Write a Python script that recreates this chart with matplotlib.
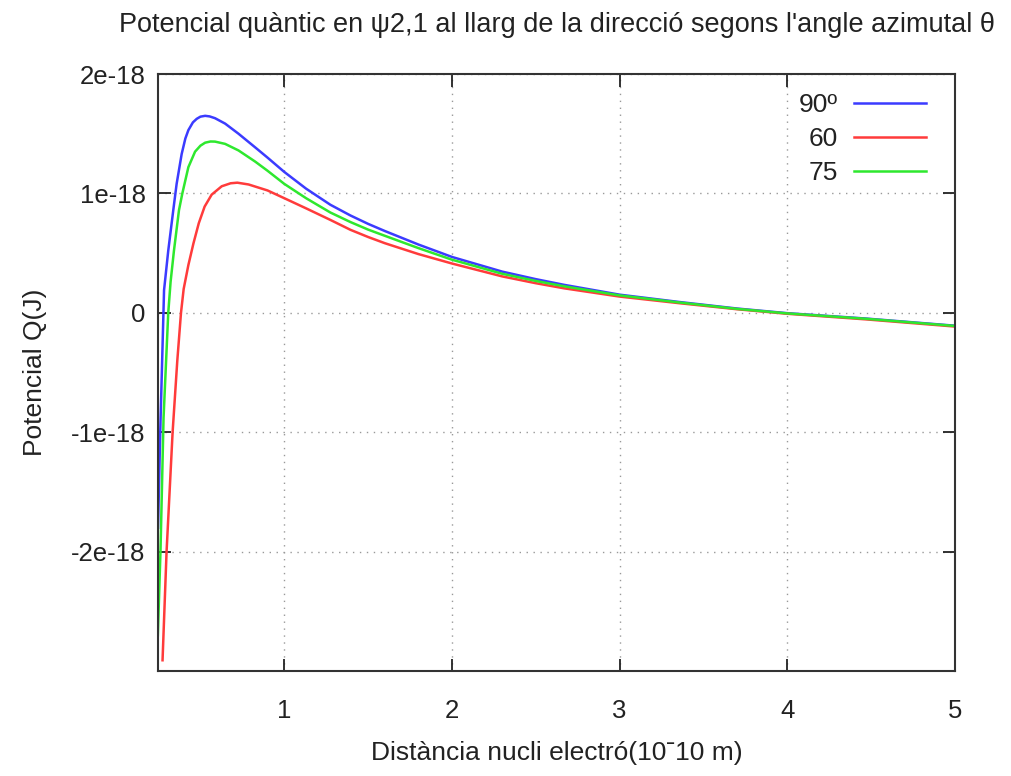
import matplotlib
matplotlib.use("Agg")
import matplotlib.pyplot as plt

plt.rcParams['font.family'] = ['Liberation Sans', 'DejaVu Sans']

# Valors llegits de la grafica (Q en unitats de 1e-18 J)
x90 = [0.247, 0.262, 0.283, 0.308, 0.338, 0.358, 0.388, 0.410, 0.428, 0.455, 0.478,
       0.500, 0.528, 0.555, 0.587, 0.647, 0.727, 0.827, 0.900, 1.000, 1.130, 1.275,
       1.395, 1.500, 1.600, 1.800, 2.000, 2.300, 2.500, 2.670, 3.000, 3.360, 3.700,
       4.000, 4.470, 5.000]
q90 = [-1.80, -0.90, 0.19, 0.52, 0.86, 1.08, 1.33, 1.46, 1.53, 1.595, 1.625,
       1.643, 1.650, 1.645, 1.630, 1.585, 1.500, 1.385, 1.300, 1.180, 1.040, 0.905,
       0.815, 0.745, 0.685, 0.572, 0.468, 0.345, 0.282, 0.234, 0.152, 0.090, 0.036,
       -0.003, -0.048, -0.108]

x60 = [0.274, 0.298, 0.334, 0.362, 0.384, 0.400, 0.428, 0.458, 0.490, 0.525, 0.567,
       0.627, 0.680, 0.720, 0.787, 0.900, 1.000, 1.130, 1.275, 1.395, 1.500, 1.600,
       1.800, 2.000, 2.300, 2.500, 2.670, 3.000, 3.360, 3.700, 4.000, 4.470, 5.000]
q60 = [-2.91, -2.00, -1.00, -0.40, 0.00, 0.20, 0.40, 0.58, 0.75, 0.89, 0.99,
       1.06, 1.085, 1.09, 1.075, 1.025, 0.96, 0.875, 0.778, 0.695, 0.635, 0.583,
       0.492, 0.413, 0.305, 0.248, 0.205, 0.136, 0.080, 0.030, -0.008, -0.055, -0.115]

x75 = [0.246, 0.262, 0.280, 0.308, 0.322, 0.342, 0.372, 0.392, 0.428, 0.468, 0.500,
       0.528, 0.560, 0.587, 0.647, 0.727, 0.827, 0.900, 1.000, 1.130, 1.275, 1.395,
       1.500, 1.600, 1.800, 2.000, 2.300, 2.500, 2.670, 3.000, 3.360, 3.700, 4.000,
       4.470, 5.000]
q75 = [-2.70, -1.98, -0.88, 0.00, 0.26, 0.52, 0.86, 1.00, 1.22, 1.35, 1.40,
       1.425, 1.435, 1.434, 1.415, 1.360, 1.266, 1.190, 1.080, 0.960, 0.840, 0.760,
       0.697, 0.645, 0.542, 0.445, 0.327, 0.267, 0.222, 0.146, 0.086, 0.033, -0.005,
       -0.050, -0.110]

yticks = [-2, -1, 0, 1, 2]
ylabels = ["-2e-18", "-1e-18", "0", "1e-18", "2e-18"]
xticks = [1, 2, 3, 4, 5]

txt = '#222222'
fs = 19
fig = plt.figure(figsize=(10.11, 7.76), dpi=100)
ax = fig.add_axes([0.1563, 0.1353, 0.7883, 0.7693])

ax.plot(x90, q90, color='#3b3bff', lw=1.8, label='90º')
ax.plot(x60, q60, color='#ff3b3b', lw=1.8, label='60')
ax.plot(x75, q75, color='#2ee82e', lw=1.8, label='75')

ax.set_xlim(0.247, 5)
ax.set_ylim(-3, 2)
ax.set_xticks(xticks)
ax.set_xticklabels([str(v) for v in xticks])
ax.set_yticks(yticks)
ax.set_yticklabels(ylabels)

ax.grid(True, color='#999999', linestyle=(0, (1, 4)), linewidth=1.0)
ax.tick_params(direction='in', length=9, width=1.3, top=True, right=True,
               labelsize=18.5, colors=txt)
ax.tick_params(axis='x', pad=20)
ax.tick_params(axis='y', pad=9)
for s in ax.spines.values():
    s.set_linewidth(1.5)
    s.set_color('#333333')

ax.set_title("Potencial quàntic en ψ2,1 al llarg de la direcció segons l'angle azimutal θ",
             fontsize=19.5, color=txt, pad=30)
ax.set_xlabel("Distància nucli electró(10ˉ10 m)", fontsize=fs, color=txt, labelpad=13)
ax.set_ylabel("Potencial Q(J)", fontsize=fs, color=txt, labelpad=17)

leg = ax.legend(loc='upper right', frameon=False, markerfirst=False, fontsize=fs,
                handlelength=2.75, handletextpad=0.6, labelspacing=0.38,
                bbox_to_anchor=(0.994, 1.008))
for t in leg.get_texts():
    t.set_color(txt)

fig.savefig('out.png', dpi=100)
